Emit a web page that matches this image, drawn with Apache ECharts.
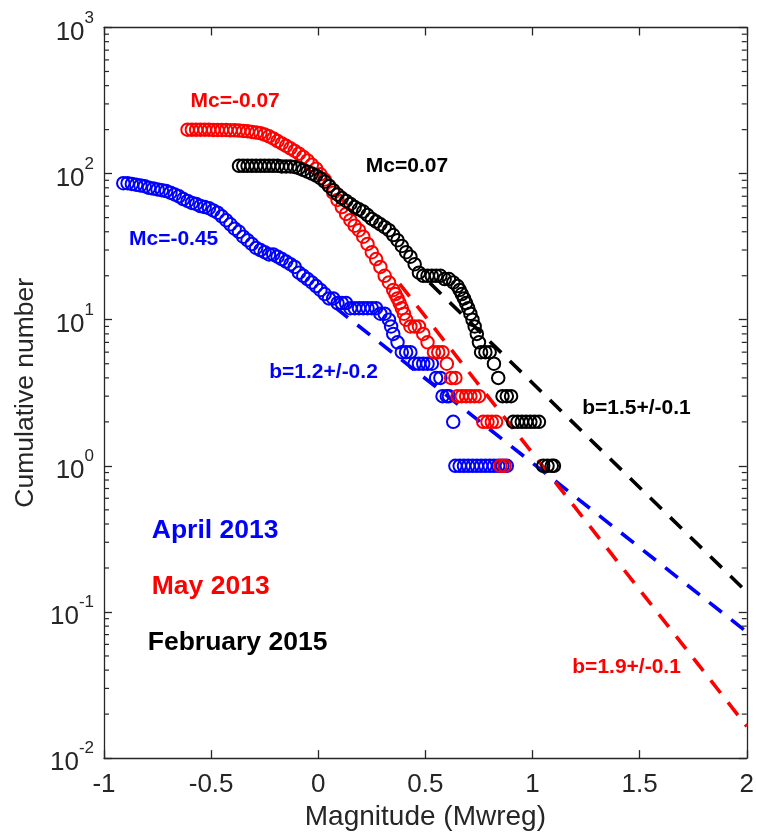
<!DOCTYPE html>
<html><head><meta charset="utf-8">
<script src="https://cdn.jsdelivr.net/npm/echarts@6/dist/echarts.min.js"></script>
<style>html,body{margin:0;padding:0;background:#fff}#c{width:757px;height:836px}</style>
</head><body><div id="c"></div>
<script>
// ---- data ----
const blueM=[-0.91,-0.89,-0.87,-0.85,-0.83,-0.81,-0.79,-0.77,-0.75,-0.73,-0.71,-0.69,-0.67,-0.65,-0.63,-0.61,-0.59,-0.57,-0.55,-0.53,-0.51,-0.49,-0.47,-0.45,-0.43,-0.41,-0.39,-0.37,-0.35,-0.33,-0.31,-0.29,-0.27,-0.25,-0.23,-0.21,-0.19,-0.17,-0.15,-0.13,-0.11,-0.09,-0.07,-0.05,-0.03,-0.01,0.01,0.03,0.05,0.07,0.09,0.11,0.13,0.15,0.17,0.19,0.21,0.23,0.25,0.27,0.29,0.31,0.33,0.34,0.35,0.37,0.39,0.41,0.43,0.45,0.47,0.49,0.51,0.53,0.55,0.57,0.58,0.60,0.61,0.63,0.64,0.66,0.68,0.70,0.72,0.74,0.76,0.78,0.80,0.82,0.84,0.86,0.88];
const blueN=[86,86,85,84,83,82,80,79,78,77,76,74,72,70,67,65,63,62,60,59,58,56,54,51,48,45,42,40,37,35,33,31,30,29,28,28,27,26,25,24,23,21,20,19,18,17,16,15,14,14,13,13,13,12,12,12,12,12,12,12,11,11,10,9,8,7,6,6,6,5,5,5,5,5,4,4,3,3,3,2,1,1,1,1,1,1,1,1,1,1,1,1,1];

const redM=[-0.61,-0.59,-0.57,-0.55,-0.53,-0.51,-0.49,-0.47,-0.45,-0.43,-0.41,-0.39,-0.37,-0.35,-0.33,-0.31,-0.29,-0.27,-0.25,-0.23,-0.21,-0.19,-0.17,-0.15,-0.13,-0.11,-0.09,-0.07,-0.05,-0.03,-0.01,0.01,0.03,0.05,0.07,0.09,0.11,0.13,0.15,0.17,0.19,0.21,0.23,0.25,0.27,0.29,0.31,0.33,0.35,0.36,0.37,0.38,0.39,0.40,0.41,0.43,0.45,0.47,0.49,0.51,0.54,0.56,0.58,0.60,0.62,0.64,0.65,0.67,0.69,0.71,0.73,0.75,0.77,0.79,0.81,0.83,0.85,0.87];
const redN=[200,200,200,200,200,200,199,199,199,199,198,198,197,196,195,193,191,189,185,180,174,167,161,155,149,143,137,130,123,115,108,99,91,83,74,66,59,53,48,44,41,37,33,29,26,23,20,18,16,15,14,13,12,11,10,9,9,9,8,7,6,6,6,5,4,4,3,3,3,3,3,3,2,2,2,2,1,1];

const blackM=[-0.37,-0.35,-0.33,-0.31,-0.29,-0.27,-0.25,-0.23,-0.21,-0.19,-0.17,-0.15,-0.13,-0.11,-0.09,-0.07,-0.05,-0.03,-0.01,0.01,0.03,0.05,0.07,0.09,0.11,0.13,0.15,0.17,0.19,0.21,0.23,0.25,0.27,0.29,0.31,0.33,0.35,0.37,0.39,0.41,0.43,0.45,0.47,0.49,0.51,0.53,0.55,0.57,0.59,0.61,0.63,0.65,0.66,0.67,0.68,0.69,0.70,0.71,0.72,0.73,0.74,0.75,0.76,0.78,0.80,0.82,0.84,0.86,0.88,0.90,0.91,0.93,0.95,0.97,0.99,1.01,1.03,1.05,1.07,1.09,1.10];
const blackN=[113,113,113,113,113,113,113,113,113,113,112,112,112,111,109,106,103,100,97,93,88,82,77,72,68,65,62,59,57,55,52,49,47,45,43,41,38,35,32,29,27,24,21,20,20,20,20,20,19,19,18,17,16,15,14,13,12,11,10,9,8,7,6,6,6,5,4,3,3,3,2,2,2,2,2,2,2,1,1,1,1];

// Gutenberg-Richter fit lines (end points)
const blueFitM=[0.08,2.0],  blueFitN=[12.1,0.073];
const redFitM=[0.38,2.0],   redFitN=[17.6,0.0165];
const blackFitM=[0.52,2.0], blackFitN=[17.9,0.137];

// tick labels
const xTicks=[-1,-0.5,0,0.5,1,1.5,2];
const yDecades=[0.01,0.1,1,10,100,1000];
const minorMult=[2,3,4,5,6,7,8,9];

// ---- chart ----
const FONT='"Liberation Sans", Arial, Helvetica, sans-serif';
const AX='#262626';
const BLUE='#0000ff', RED='#ff0000', BLACK='#000000';
const zip=(m,n)=>m.map((x,i)=>[x,n[i]]);
const minorTicks=[];
yDecades.slice(0,-1).forEach(d=>minorMult.forEach(k=>minorTicks.push(d*k)));

const chart=echarts.init(document.getElementById('c'),null,{renderer:'canvas'});

const axLine={show:true,onZero:false,lineStyle:{color:AX,width:1.3}};
const axTick={show:true,inside:true,length:8,lineStyle:{color:AX,width:1.3}};

function scatter(name,data,color){
  return {type:'scatter',name,data,symbol:'circle',symbolSize:12.5,silent:true,z:3,
    itemStyle:{color:'rgba(0,0,0,0)',borderColor:color,borderWidth:2,opacity:1}};
}
function fit(data,color){
  return {type:'line',data,symbol:'none',silent:true,z:2,
    lineStyle:{color,width:3.6,type:[16,12],cap:'butt',opacity:1}};
}
function annot(text,m,n,color,size,align){
  return {value:[m,n],name:text,label:{color,fontSize:size,align}};
}

const option={
  animation:false,
  backgroundColor:'#fff',
  grid:{left:104,right:6,top:27.5,bottom:59.5,containLabel:false},
  xAxis:[
    {type:'value',min:xTicks[0],max:xTicks[xTicks.length-1],interval:0.5,position:'bottom',
     axisLine:axLine,axisTick:axTick,splitLine:{show:false},
     axisLabel:{color:AX,fontSize:26,fontFamily:FONT,margin:14},
     name:'Magnitude (Mwreg)',nameLocation:'middle',nameGap:39,
     nameTextStyle:{color:AX,fontSize:28,fontFamily:FONT}},
    {type:'value',min:xTicks[0],max:xTicks[xTicks.length-1],interval:0.5,position:'top',
     axisLine:axLine,axisTick:axTick,splitLine:{show:false},axisLabel:{show:false}}
  ],
  yAxis:[
    {type:'log',logBase:10,min:yDecades[0],max:yDecades[yDecades.length-1],splitNumber:5,position:'left',
     axisLine:axLine,axisTick:axTick,splitLine:{show:false},
     axisLabel:{margin:10,
       formatter:v=>'{b|10}{s|'+Math.round(Math.log10(v))+'}',
       rich:{b:{fontSize:26,fontFamily:FONT,color:AX,lineHeight:36,verticalAlign:'bottom'},
             s:{fontSize:17,fontFamily:FONT,color:AX,lineHeight:17,verticalAlign:'top'}}},
     name:'Cumulative number',nameLocation:'middle',nameGap:63,nameRotate:90,
     nameTextStyle:{color:AX,fontSize:26.5,fontFamily:FONT}},
    {type:'log',logBase:10,min:yDecades[0],max:yDecades[yDecades.length-1],splitNumber:5,position:'right',
     axisLine:axLine,axisTick:axTick,splitLine:{show:false},axisLabel:{show:false}}
  ],
  series:[
    {type:'custom',silent:true,clip:false,z:5,
     data:minorTicks.map(v=>[xTicks[0],v]),
     renderItem:(p,api)=>{
       const v=api.value(1);
       const l=api.coord([xTicks[0],v]), r=api.coord([xTicks[xTicks.length-1],v]);
       return {type:'group',children:[
         {type:'line',shape:{x1:l[0],y1:l[1],x2:l[0]+5,y2:l[1]},style:{stroke:AX,lineWidth:1.2}},
         {type:'line',shape:{x1:r[0],y1:r[1],x2:r[0]-5,y2:r[1]},style:{stroke:AX,lineWidth:1.2}}
       ]};
     }},
    fit(zip(blueFitM,blueFitN),BLUE),
    fit(zip(redFitM,redFitN),RED),
    fit(zip(blackFitM,blackFitN),BLACK),
    scatter('April 2013',zip(blueM,blueN),BLUE),
    scatter('May 2013',zip(redM,redN),RED),
    scatter('February 2015',zip(blackM,blackN),BLACK),
    {type:'scatter',silent:true,z:10,symbolSize:1,itemStyle:{color:'rgba(0,0,0,0)',opacity:1},
     label:{show:true,position:'inside',formatter:'{b}',fontFamily:FONT,fontWeight:'bold',verticalAlign:'middle',opacity:1,textBorderWidth:0},
     data:[
       annot('Mc=-0.07',-0.388,313,RED,21,'center'),
       annot('Mc=0.07',0.414,112,BLACK,21,'center'),
       annot('Mc=-0.45',-0.675,35.3,BLUE,21,'center'),
       annot('b=1.2+/-0.2',0.0246,4.37,BLUE,21,'center'),
       annot('b=1.5+/-0.1',1.485,2.47,BLACK,21,'center'),
       annot('b=1.9+/-0.1',1.439,0.042,RED,21,'center'),
       annot('April 2013',-0.777,0.362,BLUE,26.5,'left'),
       annot('May 2013',-0.777,0.1486,RED,26.5,'left'),
       annot('February 2015',-0.796,0.0618,BLACK,26.5,'left')
     ]}
  ]
};
chart.setOption(option);
</script></body></html>
